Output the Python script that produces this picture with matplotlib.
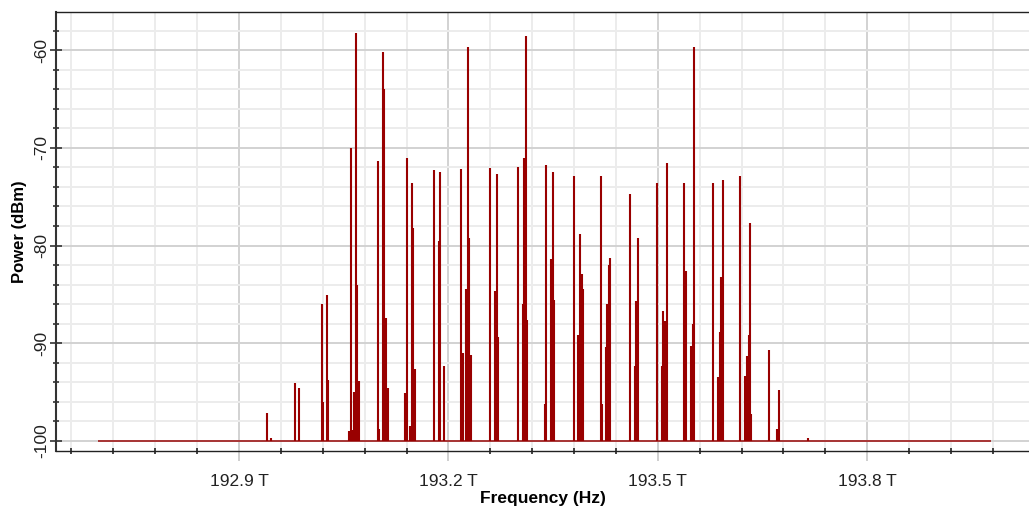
import matplotlib
matplotlib.use("Agg")
import matplotlib.pyplot as plt
from matplotlib.ticker import FixedLocator, FuncFormatter
import numpy as np

plt.rcParams['font.family'] = ['Liberation Sans', 'DejaVu Sans']
plt.rcParams['axes.unicode_minus'] = False

# spectrum lines (frequency in THz, power in dBm)
freq_thz = [
    192.9405, 192.9454,
    192.9798, 192.9864,
    193.0189, 193.0203, 193.0256, 193.0271,
    193.0576, 193.0600, 193.0623, 193.0648, 193.0672, 193.0691, 193.0715,
    193.0987, 193.1010, 193.1059, 193.1082, 193.1106, 193.1130,
    193.1378, 193.1403, 193.1450, 193.1474, 193.1493, 193.1517,
    193.1794, 193.1865, 193.1884, 193.1933,
    193.2185, 193.2205, 193.2256, 193.2276, 193.2295, 193.2319,
    193.2600, 193.2672, 193.2692, 193.2715,
    193.2993, 193.3064, 193.3087, 193.3107, 193.3130,
    193.3384, 193.3403, 193.3474, 193.3499, 193.3517,
    193.3795, 193.3861, 193.3885, 193.3910, 193.3933,
    193.4186, 193.4205, 193.4254, 193.4277, 193.4301, 193.4320,
    193.4597, 193.4669, 193.4692, 193.4716,
    193.4989, 193.5060, 193.5079, 193.5103, 193.5128,
    193.5380, 193.5400, 193.5476, 193.5500, 193.5519,
    193.5795, 193.5862, 193.5887, 193.5910, 193.5930,
    193.6182, 193.6254, 193.6278, 193.6302, 193.6321, 193.6340,
    193.6597, 193.6708, 193.6732,
    193.7148,
]
power_dbm = [
    -97.1, -99.7,
    -94.1, -94.6,
    -86.0, -96.0, -85.1, -93.8,
    -99.0, -70.0, -98.9, -95.0, -58.3, -84.0, -93.9,
    -71.4, -98.8, -60.2, -64.0, -87.4, -94.6,
    -95.1, -71.0, -98.5, -73.6, -78.2, -92.6,
    -72.3, -79.5, -72.5, -92.3,
    -72.2, -91.0, -84.5, -59.7, -79.2, -91.2,
    -72.1, -84.7, -72.7, -89.4,
    -72.0, -86.0, -71.0, -58.6, -87.6,
    -96.2, -71.8, -81.4, -72.5, -85.6,
    -72.9, -89.2, -78.8, -82.9, -84.4,
    -72.9, -96.2, -90.4, -86.0, -82.0, -81.3,
    -74.7, -92.3, -85.7, -79.2,
    -73.6, -92.3, -86.7, -87.7, -71.6,
    -73.6, -82.6, -90.3, -88.0, -59.7,
    -73.6, -93.5, -88.9, -83.2, -73.3,
    -72.9, -93.4, -91.3, -89.2, -77.7, -97.2,
    -90.7, -98.8, -94.8,
    -99.7,
]
noise_floor = -100.0
span_thz = [192.698, 193.978]

x_major = [192.9, 193.2, 193.5, 193.8]
x_minor = [192.66 + 0.06 * i for i in range(23)]
y_major = [-100, -90, -80, -70, -60]
y_minor = list(range(-100, -57, 2))

red = '#990000'

fig = plt.figure(figsize=(10.29, 5.08), dpi=100)
ax = fig.add_axes([56 / 1029, 1 - 450.7 / 508, (1029 - 56) / 1029, (450.7 - 12) / 508])

ax.hlines(noise_floor, span_thz[0], span_thz[1], color=red, lw=1.4, alpha=0.75, zorder=3)
ax.vlines(freq_thz, noise_floor, power_dbm, color=red, lw=1.5, zorder=3)

ax.set_xlim(192.6378, 194.0318)
ax.set_ylim(-101.0, -56.1)

ax.xaxis.set_major_locator(FixedLocator(x_major))
ax.xaxis.set_minor_locator(FixedLocator(x_minor))
ax.xaxis.set_major_formatter(FuncFormatter(lambda v, p: '%.1f T' % v))
ax.yaxis.set_major_locator(FixedLocator(y_major))
ax.yaxis.set_minor_locator(FixedLocator(y_minor))

ax.set_axisbelow(True)
ax.grid(which='minor', color='#ececec', lw=1.4)
ax.grid(which='major', color='#d2d2d2', lw=1.4)

ax.tick_params(axis='x', which='major', direction='inout', length=14, width=1.4,
               color='#cfcfcf', labelsize=12.5, pad=10, labelcolor='#222222')
ax.tick_params(axis='x', which='minor', direction='inout', length=5, width=1.2, color='#222222')
ax.tick_params(axis='y', which='major', direction='inout', length=9, width=1.2,
               color='#333333', labelsize=12.5, pad=0.5, labelcolor='#222222')
ax.tick_params(axis='y', which='minor', direction='inout', length=5, width=1.2, color='#333333')
for lab in ax.get_yticklabels():
    lab.set_rotation(90)
    lab.set_va('center')

for s in ['top', 'bottom']:
    ax.spines[s].set_linestyle((0, (1, 1)))
    ax.spines[s].set_color('#222222')
    ax.spines[s].set_linewidth(1.0)
ax.spines['left'].set_color('#333333')
ax.spines['left'].set_linewidth(1.5)
ax.spines['right'].set_visible(False)

ax.set_xlabel('Frequency (Hz)', fontsize=12.5, fontweight='bold', labelpad=1)
ax.set_ylabel('Power (dBm)', fontsize=12, fontweight='bold', labelpad=5)

fig.savefig('out.png', dpi=100)
